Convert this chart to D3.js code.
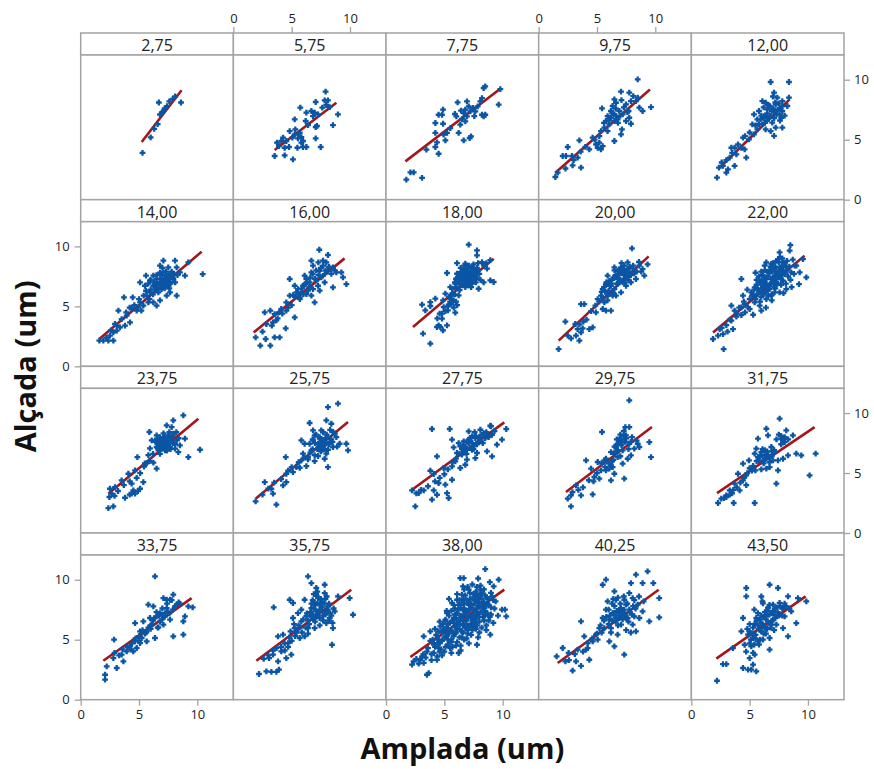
<!DOCTYPE html>
<html>
<head>
<meta charset="utf-8">
<script src="https://cdn.jsdelivr.net/npm/d3@7"></script>
<style>
  body { margin: 0; background: #fff; }
  text { font-family: "Open Sans", "Noto Sans", sans-serif; }
</style>
</head>
<body>
<svg id="chart" width="874" height="769"></svg>
<script>
// panel labels (group values)
const groupLabels = ['2,75', '5,75', '7,75', '9,75', '12,00',
  '14,00', '16,00', '18,00', '20,00', '22,00',
  '23,75', '25,75', '27,75', '29,75', '31,75',
  '33,75', '35,75', '38,00', '40,25', '43,50']

// fitted line per panel: [x1, y1, x2, y2]
const fitLines = [
  [5.23, 4.81, 8.65, 9.12], [3.54, 4.14, 8.83, 8.08], [1.66, 3.19, 9.8, 9.25], [1.43, 2.25, 9.54, 9.19], [2.66, 2.89, 8.43, 8.36],
  [1.6, 2.28, 10.37, 9.56], [1.74, 2.83, 9.54, 9.0], [2.31, 3.28, 9.23, 8.97], [1.71, 2.14, 9.43, 9.17], [1.86, 2.83, 9.71, 9.22],
  [2.37, 3.28, 10.09, 9.53], [1.91, 2.86, 9.83, 9.25], [2.23, 3.61, 10.14, 9.22], [2.34, 3.42, 9.71, 8.83], [2.2, 3.33, 10.57, 8.83],
  [1.94, 3.25, 9.51, 8.47], [1.97, 3.25, 10.11, 9.17], [2.09, 3.56, 10.14, 9.17], [1.63, 3.06, 10.29, 9.17], [2.14, 3.42, 9.8, 8.61]
]

const xTicks = [0, 5, 10]
const yTicks = [0, 5, 10]

// Amplada, Alçada pairs
const pts275 = [[5.3,3.9],[6.0,5.2],[6.3,5.9],[6.6,6.3],[6.8,7.1],[7.0,7.3],[7.1,7.4],[6.7,8.1],[7.4,7.8],[7.6,8.2],[7.9,8.4],[8.1,8.6],[8.6,8.1],[7.2,7.6]]
const pts575 = [[7.91,9.0],[7.06,8.14],[7.83,8.28],[8.11,8.28],[7.97,7.89],[7.63,7.67],[8.26,7.72],[8.97,7.11],[8.54,6.22],[5.74,7.67],[5.26,6.69],[6.26,7.25],[6.69,7.39],[6.97,7.25],[6.83,6.97],[7.26,7.11],[6.2,6.56],[6.4,6.22],[7.06,6.06],[7.17,6.14],[7.06,5.11],[7.49,4.39],[6.26,4.39],[5.97,4.39],[5.83,4.75],[5.49,4.33],[5.54,5.44],[5.26,5.44],[5.69,5.58],[5.83,5.22],[5.31,5.86],[4.83,5.72],[4.26,5.17],[4.11,4.89],[4.54,4.89],[4.77,4.39],[4.4,4.33],[3.91,4.47],[3.74,4.75],[3.54,3.64],[4.4,3.69],[5.11,3.36],[5.54,5.11],[5.06,5.17],[5.97,4.89]]
const pts775 = [[1.74,1.67],[2.09,2.28],[2.37,2.28],[3.09,1.81],[4.51,3.83],[4.23,4.39],[4.37,4.78],[3.46,4.17],[4.23,5.56],[4.23,6.39],[4.89,6.33],[4.51,7.08],[4.89,7.5],[4.8,7.08],[4.94,5.42],[5.09,4.94],[5.23,5.56],[5.51,5.97],[6.23,5.56],[6.66,4.94],[7.17,5.14],[7.29,5.28],[6.37,6.25],[6.03,6.94],[6.14,8.11],[6.66,7.22],[6.8,7.5],[6.94,6.94],[6.51,6.72],[7.23,7.36],[7.09,7.78],[6.94,8.19],[7.46,7.64],[7.66,7.36],[7.86,7.78],[8.09,8.19],[8.23,8.47],[8.37,9.31],[8.51,9.44],[8.37,6.94],[8.23,7.08],[8.51,7.08],[9.66,7.92],[9.8,9.22],[7.57,6.97],[6.43,7.42],[5.91,7.14],[6.8,6.53]]
const pts975 = [[1.43,1.89],[1.63,2.25],[2.49,4.39],[2.06,3.64],[2.34,3.64],[2.86,3.64],[2.91,2.86],[3.63,2.67],[3.34,3.5],[3.49,4.94],[4.34,4.19],[4.91,4.61],[5.06,4.33],[5.34,4.19],[5.49,4.47],[5.2,4.75],[4.63,5.17],[5.34,5.72],[5.63,6.0],[5.91,5.72],[6.06,6.28],[5.77,6.56],[5.43,7.61],[6.2,7.39],[6.49,8.36],[7.06,9.0],[6.63,8.08],[6.91,7.39],[7.2,7.11],[6.77,6.69],[6.49,6.56],[7.06,5.44],[7.14,5.86],[6.49,4.89],[7.49,6.56],[7.77,6.83],[7.91,6.33],[7.71,7.39],[7.91,8.22],[8.11,8.64],[7.77,8.92],[8.49,10.03],[8.34,8.22],[8.63,7.67],[8.91,7.39],[8.49,8.5],[9.63,7.72],[6.49,7.11],[6.2,6.83],[5.91,6.97],[6.63,6.97],[6.34,7.81],[7.49,7.94],
  [6.0,6.6],[6.3,7.2],[6.6,7.6],[6.8,6.4],[7.0,7.0],[7.3,7.7],[7.6,7.3],[7.1,8.3],[5.6,6.4],[5.2,5.3],[4.8,5.0],[4.0,4.4],[3.6,4.0],[3.0,3.3],[2.3,2.6]]
const pts1200 = [[2.2,1.83],[2.37,2.67],[2.71,2.81],[3.0,2.25],[3.14,2.53],[3.71,2.81],[3.29,3.5],[3.43,4.33],[3.71,4.33],[3.86,3.78],[4.29,4.33],[4.71,3.5],[4.57,4.19],[4.43,5.17],[4.94,5.03],[5.37,5.44],[5.66,5.86],[5.23,6.28],[5.66,6.69],[5.37,7.11],[5.8,7.39],[6.09,8.22],[6.37,8.08],[6.51,7.53],[6.23,6.97],[6.66,6.83],[6.94,6.42],[6.09,6.28],[6.37,5.86],[7.09,5.31],[6.8,5.72],[7.23,6.0],[7.8,6.0],[7.09,7.39],[7.23,7.94],[7.37,8.5],[7.09,8.92],[6.8,9.81],[8.37,9.81],[7.8,8.22],[7.8,7.39],[8.23,7.81],[8.37,8.5],[7.71,6.83],[6.71,7.81],[7.57,7.11],[5.94,6.69],[6.43,6.97],[6.2,6.8],[6.5,7.2],[6.8,7.0],[7.0,7.6],[6.3,6.4],[7.3,7.1],[7.6,7.6],[7.5,8.0],
  [6.0,7.0],[6.2,7.7],[6.5,6.6],[6.6,7.9],[6.9,7.4],[7.1,6.8],[7.2,8.1],[7.4,7.5],[7.6,6.6],[7.8,7.8],[8.0,7.0],[5.8,6.3],[5.5,6.2],[5.0,5.6],[4.6,5.3],[4.0,4.6],[3.5,3.9],[3.0,3.3],[2.6,3.1],[7.0,8.6]]
const pts1400 = [[1.6,2.14],[1.94,2.14],[2.37,2.14],[2.8,2.14],[2.51,2.56],[2.8,2.83],[3.09,2.97],[2.94,3.53],[3.37,3.25],[3.8,3.39],[3.51,3.94],[3.94,4.22],[3.23,4.64],[3.71,5.75],[4.46,5.75],[4.37,4.86],[4.94,4.92],[5.2,4.64],[5.37,5.06],[5.09,5.33],[5.66,5.89],[5.94,6.17],[5.51,6.72],[5.09,7.0],[5.6,7.56],[6.23,6.72],[6.23,5.33],[6.51,5.06],[6.8,5.5],[6.66,6.17],[7.09,6.72],[6.8,7.28],[7.09,7.83],[6.8,8.39],[7.09,8.81],[7.51,8.25],[7.37,7.56],[7.66,7.0],[7.94,7.28],[8.09,8.81],[8.23,8.25],[8.51,7.83],[8.94,7.56],[8.23,5.89],[7.66,6.17],[7.37,5.89],[9.23,8.67],[10.46,7.69],[6.51,7.28],[6.23,7.56],[5.94,7.14],[7.23,7.14],[7.8,7.56],[7.51,6.72],[6.94,6.44],[6.51,6.58],[5.8,5.33],[4.8,4.64],[4.23,3.67],[6.9,7.0],[7.2,7.3],[7.5,7.2],[7.0,7.6],[6.6,6.9],[7.8,7.9],[6.4,6.4],[7.3,6.8],[6.0,6.4],[7.6,6.5],
  [5.6,6.3],[5.8,6.9],[6.0,7.2],[6.2,6.0],[6.3,7.0],[6.5,7.6],[6.6,6.4],[6.8,7.8],[6.9,6.8],[7.1,7.1],[7.2,6.5],[7.3,7.9],[7.4,7.4],[7.6,7.7],[7.7,6.9],[7.9,7.4],[8.0,7.7],[8.1,7.0],[8.3,7.6],[7.0,8.2],[6.4,6.9],[5.9,5.6],[5.4,5.9],[5.0,5.6],[4.6,5.1],[4.2,4.9],[3.9,4.5],[3.1,3.4],[2.6,3.0],[2.2,2.4]]
const pts1600 = [[1.91,2.42],[2.31,1.72],[2.77,2.28],[3.17,1.72],[3.54,2.42],[3.97,2.42],[4.49,3.17],[3.69,3.83],[3.4,3.67],[2.83,3.53],[2.69,4.5],[3.17,4.64],[3.54,4.36],[3.91,4.5],[4.11,4.78],[4.54,4.64],[5.26,4.08],[4.54,5.33],[4.83,5.89],[5.11,5.94],[5.4,6.17],[4.83,7.28],[5.26,6.72],[5.69,5.75],[5.83,6.17],[6.26,6.03],[6.69,5.89],[6.97,5.33],[6.83,6.44],[6.54,7.0],[6.26,7.28],[6.11,7.56],[6.69,7.83],[6.83,8.39],[6.69,8.81],[7.37,9.72],[7.29,8.67],[7.4,7.97],[7.54,7.42],[7.83,7.69],[8.11,7.97],[7.97,8.67],[7.69,8.81],[8.11,9.28],[8.54,8.25],[8.83,7.83],[9.26,7.83],[9.4,7.42],[9.69,6.86],[8.54,6.58],[7.83,7.0],[7.26,6.72],[7.11,7.14],[5.97,6.72],[5.54,6.44],[7.4,6.31],[6.4,6.31],
  [5.3,5.8],[5.6,6.0],[5.9,6.5],[6.1,6.8],[6.3,7.0],[6.5,6.6],[6.6,7.4],[6.8,7.7],[7.0,7.3],[7.1,8.0],[7.3,7.6],[7.5,8.2],[7.7,8.4],[7.9,8.0],[8.2,8.3],[8.4,7.7],[8.7,8.0],[6.0,6.0],[5.7,5.6],[5.0,5.1],[4.7,4.9],[4.2,4.4],[3.8,4.0],[3.3,3.4],[2.5,2.9]]
const pts1800 = [[3.8,1.89],[3.17,2.72],[3.09,5.14],[3.37,4.67],[3.8,5.36],[4.23,5.64],[3.8,5.03],[4.37,3.28],[4.51,3.42],[4.66,3.28],[4.89,3.0],[5.23,3.42],[4.8,3.97],[4.8,4.39],[4.94,4.94],[4.89,5.5],[5.09,6.06],[5.51,5.64],[5.37,5.14],[5.94,4.47],[5.8,5.5],[6.23,5.92],[5.66,6.47],[5.51,6.61],[5.94,6.89],[6.09,7.72],[5.23,7.78],[6.09,8.61],[6.8,8.56],[7.09,10.14],[7.8,9.67],[7.8,9.25],[6.37,7.17],[6.66,7.58],[6.94,7.86],[7.23,7.44],[7.51,8.0],[7.66,7.31],[7.37,6.89],[7.09,6.75],[6.8,6.61],[7.94,6.47],[8.37,7.0],[8.23,8.69],[8.66,8.14],[8.94,7.17],[9.23,7.03],[8.94,8.86],[6.51,6.75],[6.8,7.17],[7.09,7.58],[7.37,7.72],[7.51,7.58],[6.66,8.0],[6.94,8.28],[6.43,7.72],[7.17,7.17],[6.31,6.36],[5.57,5.86],[5.31,4.67],[6.3,7.4],[6.5,7.9],[6.7,7.3],[6.9,8.1],[7.0,7.0],[7.2,7.8],[7.4,7.2],[7.6,7.9],[7.8,7.4],[6.6,6.9],[7.1,8.4],[7.5,8.5],[6.2,7.0],[7.3,6.6],[7.9,8.0],[6.8,7.7],[7.0,7.5],[7.7,7.0],[6.4,8.2],[6.0,7.3],[5.6,5.2],[5.8,4.9],[6.0,5.4],[5.4,5.8],[5.9,6.0],[6.1,5.1],
  [6.1,6.5],[6.3,6.9],[6.5,7.2],[6.6,7.6],[6.8,7.9],[6.9,7.4],[7.1,7.1],[7.2,7.6],[7.3,8.0],[7.4,8.3],[7.5,7.8],[7.6,7.3],[7.7,7.7],[7.8,8.2],[8.0,7.7],[8.1,7.2],[6.4,7.6],[6.7,8.4],[7.0,8.2],[6.2,7.7],[5.9,7.0],[6.0,6.6],[5.7,6.1],[5.5,5.4],[5.3,5.0],[5.1,4.6],[4.6,4.4],[4.4,4.0],[7.9,8.6],[8.4,8.4],[8.6,8.6],[6.9,6.9]]
const pts2000 = [[1.71,1.44],[2.29,3.72],[3.14,3.53],[2.49,2.56],[2.77,2.33],[3.2,2.56],[3.49,2.14],[3.63,2.83],[3.34,3.11],[3.77,3.17],[3.83,3.72],[3.63,5.19],[3.91,5.19],[4.34,3.11],[4.63,3.25],[4.91,4.5],[5.49,4.78],[5.77,4.64],[6.2,4.64],[5.63,5.33],[5.34,5.89],[5.49,6.44],[5.77,6.86],[6.06,7.14],[5.91,7.56],[6.2,6.72],[6.49,6.44],[6.77,6.86],[6.63,7.42],[6.91,7.69],[7.06,8.25],[7.34,8.39],[7.63,8.67],[8.0,9.83],[7.49,7.75],[7.77,7.56],[8.2,7.75],[8.63,8.39],[8.91,8.11],[9.34,8.5],[9.06,7.56],[8.34,7.28],[7.91,7.0],[7.49,6.72],[7.06,6.17],[6.63,5.89],[7.2,7.0],[6.91,7.0],[7.34,7.28],[7.77,7.89],[8.06,8.17],[6.77,7.97],[6.49,8.25],[6.34,5.89],[5.91,5.89],[5.06,5.61],[4.86,5.06],[6.3,7.2],[6.6,7.6],[6.9,8.0],[7.2,8.1],[7.5,7.4],[7.0,7.2],[7.8,8.3],[6.7,6.9],[7.3,7.6],[6.1,6.7],[5.7,6.2],[5.5,5.7],[6.0,6.0],[5.6,6.6],
  [6.2,6.9],[6.4,7.4],[6.5,8.0],[6.8,7.3],[7.0,7.8],[7.1,8.6],[7.3,8.0],[7.4,7.0],[7.6,8.1],[7.7,7.2],[7.9,7.6],[8.1,8.4],[8.4,7.9],[8.6,8.7],[8.8,7.9],[6.0,6.3],[5.8,7.0],[5.4,6.2],[5.2,5.4],[5.9,5.5],[6.4,6.1],[4.5,4.6],[4.1,3.9],[3.5,3.5]]
const pts2200 = [[1.86,2.28],[2.29,2.56],[2.77,1.44],[2.71,2.69],[2.43,3.11],[3.0,3.44],[3.43,3.81],[3.57,3.11],[3.43,5.06],[3.86,4.14],[4.29,4.28],[4.43,5.89],[4.29,7.28],[4.57,5.19],[4.86,4.92],[5.0,5.61],[5.14,6.17],[5.43,6.58],[5.86,7.0],[6.14,7.56],[6.29,8.39],[6.43,8.67],[6.71,7.83],[6.86,8.53],[7.14,8.11],[7.43,8.94],[7.57,9.5],[8.49,10.11],[8.43,9.64],[7.8,7.69],[7.86,7.14],[8.14,6.44],[7.57,6.17],[7.14,6.17],[6.86,5.89],[6.43,5.61],[6.0,4.64],[5.86,5.06],[5.43,5.33],[6.14,6.17],[6.57,6.72],[7.0,7.0],[7.43,7.42],[7.29,6.86],[6.71,6.44],[6.29,6.86],[5.71,6.44],[9.29,7.83],[9.86,7.42],[9.23,6.86],[9.57,8.94],[8.86,8.39],[8.57,7.83],[8.14,8.25],[7.86,8.67],[7.57,8.25],[7.29,7.69],[6.86,7.28],[6.43,7.28],[6.0,7.14],[6.14,6.58],[5.57,5.89],[5.0,4.78],[4.29,4.92],[3.71,4.64],[8.0,7.69],[7.71,7.97],[7.14,7.56],[6.0,6.5],[6.3,7.0],[6.6,7.5],[6.9,7.9],[7.2,8.3],[7.5,8.7],[7.8,9.0],[6.2,6.0],[6.5,6.4],[6.8,6.9],[7.1,7.3],[7.4,7.8],[7.7,8.2],[8.0,8.5],[5.8,6.2],[6.1,6.8],[6.4,7.4],[6.7,8.0],[7.0,8.6],[7.3,7.0],[7.6,7.4],[7.9,7.9],[8.2,8.0],[5.5,5.6],[5.9,5.4],[6.6,5.9],[7.2,6.5],[7.7,6.8],[5.3,6.0],[6.9,6.0],[8.3,7.5],[6.0,7.9],[5.6,7.2],
  [5.2,5.9],[5.4,6.4],[5.6,6.8],[5.8,7.5],[6.0,5.8],[6.2,7.2],[6.4,6.2],[6.5,7.9],[6.7,6.7],[6.8,8.3],[7.0,7.3],[7.1,6.6],[7.2,7.9],[7.3,8.8],[7.4,6.9],[7.5,7.7],[7.6,9.1],[7.7,7.3],[7.8,8.4],[8.0,7.8],[8.1,6.9],[8.2,8.8],[8.4,8.3],[8.5,7.2],[8.7,8.9],[8.8,7.7],[9.0,8.4],[6.3,8.0],[5.5,7.8],[4.8,6.4],[4.5,5.4],[4.1,4.9],[3.9,4.4],[3.3,3.9],[2.6,3.2],[3.1,2.9],[4.6,4.5],[5.3,4.3],[6.4,4.9],[6.9,5.5],[7.9,6.1],[8.6,6.6],[6.1,7.6],[6.9,7.0],[7.6,8.0]]
const pts2375 = [[2.37,2.08],[2.8,2.22],[2.46,3.0],[2.66,3.28],[2.51,3.69],[2.94,3.83],[3.51,4.39],[3.8,2.94],[4.37,3.28],[4.51,3.56],[4.66,3.28],[5.09,3.69],[5.37,4.25],[4.37,4.11],[4.09,4.94],[4.66,5.22],[4.86,6.33],[5.43,5.53],[5.66,5.81],[5.8,6.5],[5.94,7.06],[5.89,8.42],[6.51,5.36],[6.23,5.86],[6.66,6.89],[6.37,7.72],[6.8,7.86],[7.23,7.44],[7.09,8.0],[7.37,8.97],[7.94,9.39],[8.8,9.81],[7.8,8.83],[7.94,8.28],[8.23,7.72],[8.51,7.31],[9.23,6.33],[10.23,6.94],[8.94,7.86],[7.66,7.17],[7.37,6.89],[7.51,7.58],[6.94,7.31],[6.66,7.44],[6.51,7.17],[7.23,6.89],[7.8,7.72],[8.09,7.03],[8.37,6.75],[7.51,8.14],[6.51,8.14],[6.09,7.72],[6.7,7.4],[7.0,7.7],[7.3,7.2],[7.6,7.9],[6.9,7.0],[7.2,8.0],[7.5,7.5],[6.6,7.8],[7.9,7.5],[7.1,7.4],[6.8,6.6],[7.7,7.0],
  [6.4,7.6],[6.6,7.1],[6.8,8.0],[7.0,7.2],[7.1,8.3],[7.3,7.8],[7.4,6.9],[7.6,8.4],[7.7,7.6],[7.9,8.1],[8.1,7.4],[8.2,8.4],[8.4,7.9],[6.9,7.5],[6.2,6.6],[5.9,6.0],[5.5,5.8],[5.1,5.0],[4.8,4.6],[4.2,4.3],[3.7,4.0],[3.2,3.5],[2.9,3.1],[4.2,3.2],[4.9,3.5]]
const pts2575 = [[1.91,2.64],[3.69,2.36],[2.69,4.25],[3.26,3.69],[3.4,3.28],[4.26,3.97],[4.54,4.25],[4.54,4.94],[4.49,6.33],[5.11,5.08],[5.4,5.5],[5.83,6.06],[5.97,6.61],[6.11,7.44],[5.83,7.72],[6.54,9.17],[6.83,8.56],[6.97,8.14],[7.4,7.86],[7.26,7.03],[7.26,6.42],[6.97,6.0],[6.4,6.14],[6.26,5.58],[5.69,5.44],[8.11,5.5],[7.97,6.61],[7.83,7.31],[7.54,8.56],[8.11,10.5],[8.97,10.78],[7.97,9.39],[8.4,9.11],[8.54,8.42],[8.83,8.0],[9.11,7.44],[9.69,7.44],[9.83,6.89],[8.54,7.17],[8.26,7.58],[7.69,7.72],[7.26,7.44],[6.69,6.89],[6.4,6.33],[6.97,6.5],[7.54,6.89],[7.83,6.19],[8.11,6.94],[6.83,7.72],[6.54,7.44],[7.3,7.2],[7.6,7.6],[7.9,7.9],[8.2,7.4],[7.5,6.8],[7.0,7.5],[8.0,8.2],[8.4,7.8],[6.8,7.0],[7.8,7.0],
  [6.8,7.8],[7.1,8.2],[7.2,7.0],[7.4,8.0],[7.6,7.2],[7.7,8.4],[7.9,7.5],[8.1,8.0],[8.3,8.6],[8.5,7.6],[8.7,8.3],[8.9,7.2],[6.6,6.7],[6.1,6.3],[5.6,5.9],[5.0,5.5],[4.7,5.2],[4.1,4.5],[3.5,4.2],[3.0,3.7],[2.5,3.2]]
const pts2775 = [[2.51,2.22],[2.23,3.56],[2.8,3.33],[3.23,3.56],[3.94,2.78],[4.09,3.56],[4.37,3.19],[5.23,3.33],[5.37,2.92],[5.09,4.03],[4.51,4.17],[3.8,5.19],[4.09,4.92],[4.37,6.39],[3.94,8.67],[5.46,8.67],[5.66,7.78],[4.94,5.42],[5.66,4.44],[5.66,5.56],[5.94,5.97],[6.37,5.42],[6.09,6.67],[6.37,7.22],[6.66,7.64],[6.94,6.94],[7.09,7.5],[7.09,8.47],[7.37,8.06],[7.51,7.22],[7.8,6.67],[7.66,6.25],[6.94,6.11],[8.09,7.64],[8.37,8.33],[8.09,8.61],[8.94,8.94],[9.09,8.19],[9.51,7.36],[9.94,7.78],[10.31,8.67],[9.09,6.39],[8.66,6.81],[6.8,5.69],[6.51,6.53],[7.23,7.64],[7.37,6.94],[6.66,6.81],[5.8,7.14],[7.66,7.92],[6.23,7.5],[6.8,7.2],[7.1,7.8],[7.4,7.5],[7.7,8.1],[6.5,7.0],[7.9,7.6],[7.2,7.1],[8.2,8.2],[6.9,6.6],[8.5,7.9],
  [6.6,7.3],[6.9,7.6],[7.2,7.9],[7.5,7.0],[7.8,7.4],[8.0,8.0],[8.3,7.5],[8.6,8.4],[8.8,8.0],[7.6,8.4],[6.3,6.6],[6.0,6.2],[5.7,5.9],[5.3,5.3],[5.0,4.9],[4.6,4.6],[4.2,4.3],[3.6,3.9],[3.0,3.6],[2.6,3.3],[9.3,8.5],[9.0,8.9]]
const pts2975 = [[2.77,2.22],[2.49,2.86],[2.77,3.14],[3.2,3.97],[3.63,3.14],[4.63,3.22],[4.06,6.06],[4.49,5.36],[4.77,4.67],[5.2,4.53],[5.43,8.42],[5.63,6.06],[5.77,5.22],[6.2,4.39],[6.34,5.5],[6.2,6.75],[6.63,7.17],[6.91,7.58],[6.77,6.33],[7.2,5.78],[7.34,4.53],[7.06,7.86],[7.43,8.83],[7.77,11.06],[7.49,8.14],[7.77,7.44],[8.2,7.03],[7.91,6.47],[8.49,7.44],[8.63,7.17],[9.49,7.58],[9.63,6.33],[6.2,5.64],[5.77,6.19],[6.06,5.36],[6.77,7.44],[7.2,6.89],[7.63,6.19],[7.77,8.83],[6.49,4.94],[5.34,5.22],[5.06,5.92],[6.8,6.9],[7.1,7.3],[6.5,6.6],[7.4,7.6],[6.9,7.8],[7.3,8.1],[6.4,6.1],[7.0,6.4],
  [6.5,7.2],[6.7,7.8],[7.0,8.2],[7.2,7.6],[7.3,8.5],[7.5,7.9],[7.7,7.0],[7.9,7.6],[6.6,6.8],[6.3,6.0],[6.0,5.8],[5.7,5.5],[5.4,5.8],[5.0,5.0],[4.7,4.3],[4.3,4.4],[3.8,3.8],[3.4,3.6],[2.9,3.4],[8.0,8.0],[8.4,7.7]]
const pts3175 = [[2.29,2.5],[2.57,2.86],[3.0,3.14],[3.63,2.5],[3.29,3.56],[3.71,4.11],[4.14,3.56],[4.43,4.39],[4.71,4.0],[4.0,4.94],[4.43,5.78],[4.94,6.06],[5.49,5.22],[5.43,2.5],[5.71,6.33],[5.57,7.03],[5.71,7.86],[6.43,8.69],[6.57,8.14],[6.86,7.17],[7.0,6.06],[6.71,5.5],[7.29,4.11],[7.43,5.22],[7.57,9.53],[7.71,7.86],[8.0,7.58],[8.14,8.56],[8.71,8.14],[9.0,6.61],[9.43,6.47],[8.29,6.47],[7.86,6.19],[10.14,4.81],[10.66,6.61],[6.0,6.75],[6.14,6.06],[5.43,6.61],[6.29,6.47],[7.14,6.75],[6.71,6.33],[7.43,6.06],[6.43,5.36],[7.86,7.72],[6.0,6.5],[6.3,6.9],[6.6,6.5],[6.9,6.8],[6.4,6.2],[5.8,6.0],[6.2,5.8],[7.7,8.1],[7.9,7.9],[5.2,5.2],[4.7,4.8],[3.5,3.3],[3.0,3.0],
  [5.6,6.0],[5.9,6.4],[6.1,7.0],[6.3,6.2],[6.5,6.8],[6.7,5.9],[6.9,6.4],[7.1,6.9],[7.3,7.8],[7.5,8.2],[7.7,7.4],[8.0,8.0],[8.3,7.8],[5.3,5.6],[5.0,5.4],[4.8,5.0],[4.5,4.6],[4.2,4.2],[3.9,3.8],[3.6,3.6],[3.3,3.2],[2.8,2.9],[6.0,5.3]]
const pts3375 = [[2.09,1.67],[2.09,2.08],[2.23,2.78],[2.8,3.47],[3.09,2.64],[2.86,5.0],[3.51,3.75],[3.66,3.19],[3.94,4.03],[4.23,4.44],[4.51,4.03],[4.66,4.86],[4.66,6.39],[5.09,5.69],[5.23,5.14],[5.66,4.86],[5.37,6.53],[5.8,7.92],[6.23,7.78],[6.37,10.28],[6.51,6.94],[6.66,6.03],[6.37,5.14],[7.09,6.25],[7.37,8.33],[7.23,7.22],[7.94,8.75],[8.23,7.92],[7.94,5.28],[8.8,5.42],[8.8,6.53],[9.23,7.78],[9.6,7.69],[8.94,6.94],[7.66,6.67],[6.94,6.67],[6.8,7.22],[6.09,6.25],[5.66,5.69],[5.09,4.72],[4.8,4.31],[5.94,6.81],[7.37,7.64],[7.66,8.33],[7.09,8.47],[6.2,6.6],[6.7,7.0],[7.0,7.0],[7.5,7.3],[6.0,5.9],[5.5,5.5],[5.0,5.3],[4.3,4.2],[7.9,7.5],[8.4,8.1],
  [6.0,6.2],[6.3,6.8],[6.5,7.3],[6.8,6.5],[7.0,7.6],[7.2,6.9],[7.4,8.0],[7.6,7.2],[7.8,8.3],[8.1,7.8],[8.5,8.0],[6.6,6.0],[5.8,6.0],[5.6,5.6],[5.3,5.8],[5.0,4.9],[4.7,5.1],[4.4,4.7],[4.0,4.4],[3.6,4.2],[3.3,3.7],[2.9,3.9]]
const pts3575 = [[2.2,2.14],[2.83,2.36],[3.26,2.31],[3.69,2.31],[3.91,2.5],[3.46,7.69],[3.06,3.47],[3.4,3.75],[3.83,3.19],[4.11,4.03],[3.83,5.28],[4.26,5.42],[4.83,8.33],[5.11,8.06],[4.69,4.72],[4.97,3.75],[5.26,5.97],[5.11,6.81],[5.54,7.22],[5.83,7.5],[6.11,8.33],[6.4,10.28],[6.69,9.72],[7.11,9.31],[7.83,9.58],[7.83,8.89],[5.83,6.53],[6.11,5.28],[6.4,5.97],[6.83,6.81],[7.11,7.36],[7.4,7.92],[7.83,7.36],[8.26,6.81],[8.54,5.97],[8.46,4.58],[8.97,8.61],[9.97,8.47],[10.26,7.08],[6.97,8.06],[6.69,7.64],[7.26,8.47],[7.54,8.06],[8.11,7.78],[6.97,5.97],[6.26,6.97],[5.69,5.14],[5.4,5.69],[7.4,6.81],[7.97,6.39],[8.69,7.36],[4.54,3.47],[6.6,7.0],[6.9,7.6],[7.2,8.0],[7.5,8.4],[7.8,8.0],[8.1,7.5],[7.0,6.5],[7.3,7.2],[7.6,7.7],[7.9,7.1],[8.2,6.6],[6.5,6.3],[6.8,8.3],[7.1,8.8],[7.7,6.6],[8.4,7.0],[6.2,6.0],[5.9,5.6],[6.4,5.5],[5.6,6.2],[7.4,6.2],[8.0,8.6],[6.3,7.2],[5.3,5.3],[5.0,4.9],[4.7,4.4],[4.4,4.1],[4.9,5.7],
  [6.4,6.6],[6.6,7.3],[6.8,7.1],[7.0,7.9],[7.1,6.9],[7.3,8.5],[7.4,7.5],[7.6,8.2],[7.7,7.0],[7.9,8.4],[8.0,7.3],[8.2,8.0],[8.3,7.2],[8.5,6.4],[6.7,8.0],[6.9,8.8],[7.2,9.0],[6.0,6.7],[5.7,6.0],[5.4,5.6],[5.2,6.3],[4.8,5.2],[4.4,4.7],[4.1,4.4],[3.7,4.3],[3.4,4.1],[3.0,3.7],[2.6,3.4],[8.6,7.6]]
const pts3800 = [[2.23,2.92],[2.37,3.19],[2.94,3.33],[3.23,3.06],[3.09,3.61],[3.51,2.08],[3.66,2.22],[3.23,5.28],[3.8,5.69],[4.09,4.72],[4.09,3.89],[4.51,4.31],[4.66,6.11],[5.09,6.67],[5.23,7.22],[5.66,8.06],[6.09,8.33],[6.51,8.75],[6.6,9.44],[6.37,10.14],[6.66,10.14],[7.09,9.17],[7.66,8.61],[8.09,9.17],[8.51,10.89],[9.23,9.44],[9.66,10.0],[9.94,7.5],[10.31,6.94],[8.94,5.42],[7.8,4.58],[6.23,3.89],[4.37,3.33],[4.5,5.0],[4.8,5.6],[5.0,5.2],[5.2,6.0],[5.4,5.5],[5.5,6.4],[5.6,5.0],[5.8,6.8],[5.9,6.1],[6.0,5.6],[6.1,7.2],[6.2,6.5],[6.3,5.9],[6.4,7.6],[6.5,6.9],[6.6,6.2],[6.7,8.0],[6.8,7.3],[6.9,6.6],[7.0,5.8],[7.1,7.9],[7.2,7.0],[7.3,6.3],[7.4,8.4],[7.5,7.5],[7.6,6.8],[7.7,5.9],[7.8,8.2],[7.9,7.2],[8.0,6.5],[8.1,8.7],[8.2,7.7],[8.3,6.9],[8.4,8.1],[8.5,7.4],[8.6,6.2],[8.8,7.9],[9.0,7.1],[9.2,8.3],[5.3,4.6],[5.7,4.4],[6.1,4.8],[6.5,5.2],[6.9,5.1],[7.3,5.4],[4.2,4.4],[4.0,5.0],[4.7,4.2],[5.9,7.6],[6.3,8.3],[6.8,8.7],[7.2,8.9],[7.7,9.0],[8.4,9.2],[3.6,4.3],[3.9,3.8],[4.4,3.6],[5.0,4.0],[5.4,7.0],[5.1,6.6],[4.9,6.3],[6.6,5.6],[7.5,6.1],[8.0,5.6],[8.8,6.6],[9.3,7.6],[7.0,9.4],[6.2,7.9],[5.6,7.4],[6.4,4.5],[7.8,7.6],[8.6,8.5],[9.0,8.9],[4.6,4.7],[5.2,5.3],[5.7,5.7],[6.0,6.2],[6.4,6.7],[6.7,7.1],[7.0,7.4],[7.3,7.7],[7.6,8.0],[7.9,8.5],[8.2,8.9],[5.5,4.3],[6.8,6.0],[7.4,6.6],[8.3,7.3],[4.3,5.4],[4.9,5.8],[5.8,6.4],[6.6,7.5],[7.1,6.2],[7.7,7.0],[8.7,8.0],[3.4,3.5],[2.8,3.0],
  [4.1,4.6],[4.4,5.2],[4.6,4.0],[4.8,4.9],[5.0,5.9],[5.1,4.4],[5.3,5.0],[5.3,6.3],[5.5,5.8],[5.6,4.8],[5.7,6.6],[5.8,5.3],[5.9,7.1],[6.0,6.8],[6.0,4.5],[6.1,5.9],[6.2,7.5],[6.3,6.3],[6.3,5.2],[6.4,7.0],[6.5,8.0],[6.5,5.7],[6.6,6.6],[6.7,7.6],[6.7,5.0],[6.8,6.3],[6.9,8.3],[6.9,7.0],[7.0,6.8],[7.0,5.5],[7.1,7.4],[7.2,8.4],[7.2,6.0],[7.3,7.9],[7.3,6.9],[7.4,5.8],[7.5,8.8],[7.5,7.0],[7.6,6.4],[7.6,8.3],[7.7,7.3],[7.8,6.2],[7.8,8.8],[7.9,7.8],[8.0,6.9],[8.0,8.1],[8.1,7.3],[8.2,6.0],[8.2,8.4],[8.3,7.7],[8.4,6.6],[8.5,8.7],[8.5,7.0],[8.6,7.8],[8.7,7.2],[8.8,8.4],[8.9,6.9],[9.0,7.7],[9.1,8.6],[9.4,8.2],[9.6,7.0],[10.2,7.5],[5.8,7.9],[5.2,7.4],[4.6,6.5],[4.2,5.9],[3.8,4.9],[3.5,4.0],[3.2,3.8],[2.6,3.4],[3.9,3.3],[4.8,3.7],[5.6,3.9],[6.4,4.1],[7.1,4.7],[7.9,5.2],[8.6,5.8],[9.2,6.4],[7.4,9.6],[6.7,9.2],[8.1,9.5],[8.9,9.8],[7.9,10.1],[5.4,8.4],[6.1,8.8],[7.8,9.4],[4.4,4.7],[5.9,5.5],[6.9,6.0],[7.7,6.7],[8.3,8.0],[5.1,5.6],[4.5,5.7],[6.6,8.4],[7.1,8.1]]
const pts4025 = [[1.54,3.61],[2.06,4.31],[2.29,3.19],[2.57,3.89],[2.91,2.42],[3.2,3.19],[3.63,2.81],[3.63,6.53],[3.91,5.28],[4.06,4.17],[4.34,3.33],[4.63,4.86],[4.91,5.42],[5.2,5.97],[5.49,6.81],[5.77,7.5],[5.91,8.19],[5.77,10.0],[5.49,9.58],[6.49,9.03],[6.34,7.22],[6.2,5.97],[6.06,4.86],[6.49,4.44],[7.34,3.75],[6.77,5.42],[7.06,6.25],[7.2,7.36],[7.34,8.33],[7.91,9.72],[8.34,10.42],[9.34,10.69],[8.91,9.72],[9.83,9.72],[10.34,8.47],[10.34,6.86],[9.49,6.53],[8.91,7.36],[8.49,7.92],[8.06,8.47],[7.77,7.5],[7.63,6.81],[8.06,6.25],[8.34,5.69],[6.63,8.33],[6.91,7.5],[7.49,7.92],[6.06,6.67],[5.63,5.97],[5.06,5.0],[4.2,4.72],[3.34,4.17],[6.63,6.81],[7.06,7.64],[7.77,8.89],[8.2,6.94],[8.63,6.81],[6.3,6.6],[6.6,7.0],[6.9,7.2],[7.2,6.7],[6.5,7.8],[7.0,8.0],[7.4,7.1],[7.7,6.5],[8.0,7.1],[6.0,6.3],[6.2,5.6],[6.8,6.2],[7.5,5.8],[6.4,8.4],[7.3,8.6],[5.8,6.9],[8.3,7.6],[7.9,5.6],[5.4,5.6],[6.0,7.5],
  [6.1,7.0],[6.4,7.2],[6.6,6.5],[6.7,7.4],[6.9,6.8],[7.1,7.0],[7.3,7.5],[7.5,6.8],[7.6,8.0],[7.8,7.3],[8.1,7.8],[8.2,8.3],[6.8,8.5],[6.3,8.0],[5.6,6.6],[5.3,6.2],[5.0,5.5],[4.6,5.1],[4.2,4.3],[3.8,4.0],[3.1,3.8],[2.6,3.3],[8.6,8.6],[9.0,8.2]]
const pts4350 = [[2.2,1.58],[2.71,2.97],[3.0,2.97],[3.57,4.31],[4.29,5.69],[4.43,6.81],[4.71,9.31],[4.71,8.61],[4.57,4.58],[4.43,2.64],[4.86,2.5],[5.14,2.5],[5.57,2.36],[5.29,2.92],[5.0,3.47],[5.43,3.75],[5.14,4.44],[5.71,4.86],[6.14,5.0],[6.71,4.17],[6.71,5.14],[5.0,5.69],[5.43,6.31],[5.71,7.22],[6.14,8.03],[6.71,9.58],[7.43,9.31],[7.0,7.92],[7.57,7.08],[7.29,6.25],[7.86,5.97],[8.29,5.28],[8.29,8.61],[8.57,7.36],[9.0,6.39],[9.86,8.19],[9.14,8.47],[7.86,7.64],[7.14,7.08],[6.43,6.94],[6.0,6.39],[6.29,5.97],[6.86,6.25],[6.57,7.64],[5.86,5.83],[5.29,5.14],[4.86,5.42],[7.57,8.06],[8.0,6.94],[5.57,6.81],[5.5,5.4],[5.8,5.9],[6.1,6.3],[6.4,6.7],[6.7,7.1],[7.0,7.4],[7.3,7.7],[5.3,6.0],[5.6,6.6],[6.0,7.0],[6.3,7.3],[6.6,7.7],[6.9,6.5],[7.2,6.8],[7.5,7.0],[5.9,5.0],[6.2,5.5],[6.5,5.9],[6.8,6.0],[5.1,5.0],[5.4,4.6],[7.8,7.6],[8.1,7.8],[6.1,8.2],[5.0,6.3],[4.8,5.9],
  [5.7,6.2],[5.9,6.7],[6.0,5.7],[6.2,6.9],[6.3,6.1],[6.5,7.4],[6.6,6.4],[6.7,7.9],[6.9,7.2],[7.0,6.7],[7.2,7.6],[7.4,7.3],[7.6,7.8],[7.8,7.0],[8.0,8.0],[8.4,7.6],[5.2,5.5],[5.5,5.1],[5.0,4.7],[5.8,4.6],[5.3,3.9],[4.7,4.0],[6.4,5.5],[7.1,5.8],[5.4,7.5],[6.0,8.6]]

const panelPoints = [pts275, pts575, pts775, pts975, pts1200,
  pts1400, pts1600, pts1800, pts2000, pts2200,
  pts2375, pts2575, pts2775, pts2975, pts3175,
  pts3375, pts3575, pts3800, pts4025, pts4350]

const gridLeft = 80.7
const gridTop = 33
const colW = 152.66
const rowH = 166.67
const stripH = 22
const plotH = rowH - stripH
const nCols = 5
const nRows = 4

const frameColor = '#a3a3a3'
const pointColor = '#0a55a4'
const lineColor = '#a3161a'

const svg = d3.select('#chart')

const x = d3.scaleLinear().domain([0, 13.09]).range([0, colW])
const y = d3.scaleLinear().domain([0, 12.06]).range([plotH, 0])

const cross = 'M-2.9,0H2.9M0,-2.9V2.9'

groupLabels.forEach((label, i) => {
  const r = Math.floor(i / nCols)
  const c = i % nCols
  const g = svg.append('g')
    .attr('transform', `translate(${gridLeft + c * colW},${gridTop + r * rowH})`)

  // strip with the group value
  g.append('rect')
    .attr('width', colW).attr('height', stripH)
    .attr('fill', '#fff')
    .attr('stroke', frameColor).attr('stroke-width', 1.5)
  g.append('text')
    .attr('x', colW / 2).attr('y', stripH / 2 + 1)
    .attr('text-anchor', 'middle')
    .attr('dominant-baseline', 'central')
    .style('font-size', '16px')
    .style('fill', '#222')
    .text(label)

  const plot = g.append('g').attr('transform', `translate(0,${stripH})`)
  plot.append('rect')
    .attr('width', colW).attr('height', plotH)
    .attr('fill', '#fff')
    .attr('stroke', frameColor).attr('stroke-width', 1.5)

  // fit line sits under the symbols
  const f = fitLines[i]
  plot.append('line')
    .attr('x1', x(f[0])).attr('y1', y(f[1]))
    .attr('x2', x(f[2])).attr('y2', y(f[3]))
    .attr('stroke', lineColor)
    .attr('stroke-width', 2.6)

  plot.selectAll('path.pt')
    .data(panelPoints[i])
    .join('path')
    .attr('class', 'pt')
    .attr('d', cross)
    .attr('transform', d => `translate(${x(d[0])},${y(d[1])})`)
    .attr('stroke', pointColor)
    .attr('stroke-width', 2.3)
})

function styleAxis (sel) {
  sel.select('.domain').remove()
  sel.selectAll('.tick line').attr('stroke', frameColor).attr('stroke-width', 1.3)
  sel.selectAll('.tick text')
    .style('font-size', '13px')
    .style('fill', '#222')
}

// x axes alternate bottom / top
for (let c = 0; c < nCols; c++) {
  const axisX = gridLeft + c * colW
  if (c % 2 === 0) {
    svg.append('g')
      .attr('transform', `translate(${axisX},${gridTop + nRows * rowH})`)
      .call(d3.axisBottom(x).tickValues(xTicks).tickSize(6).tickPadding(4))
      .call(styleAxis)
  } else {
    svg.append('g')
      .attr('transform', `translate(${axisX},${gridTop})`)
      .call(d3.axisTop(x).tickValues(xTicks).tickSize(6).tickPadding(4))
      .call(styleAxis)
  }
}

// y axes alternate right / left
for (let r = 0; r < nRows; r++) {
  const axisY = gridTop + r * rowH + stripH
  if (r % 2 === 0) {
    svg.append('g')
      .attr('transform', `translate(${gridLeft + nCols * colW},${axisY})`)
      .call(d3.axisRight(y).tickValues(yTicks).tickSize(6).tickPadding(4))
      .call(styleAxis)
  } else {
    svg.append('g')
      .attr('transform', `translate(${gridLeft},${axisY})`)
      .call(d3.axisLeft(y).tickValues(yTicks).tickSize(6).tickPadding(5))
      .call(styleAxis)
  }
}

// axis titles
svg.append('text')
  .attr('x', gridLeft + nCols * colW / 2)
  .attr('y', 759)
  .attr('text-anchor', 'middle')
  .style('font-size', '29px')
  .style('font-weight', 'bold')
  .style('fill', '#111')
  .text('Amplada (um)')

svg.append('text')
  .attr('transform', `translate(36,${gridTop + nRows * rowH / 2}) rotate(-90)`)
  .attr('text-anchor', 'middle')
  .style('font-size', '29px')
  .style('font-weight', 'bold')
  .style('fill', '#111')
  .text('Alçada (um)')
</script>
</body>
</html>
